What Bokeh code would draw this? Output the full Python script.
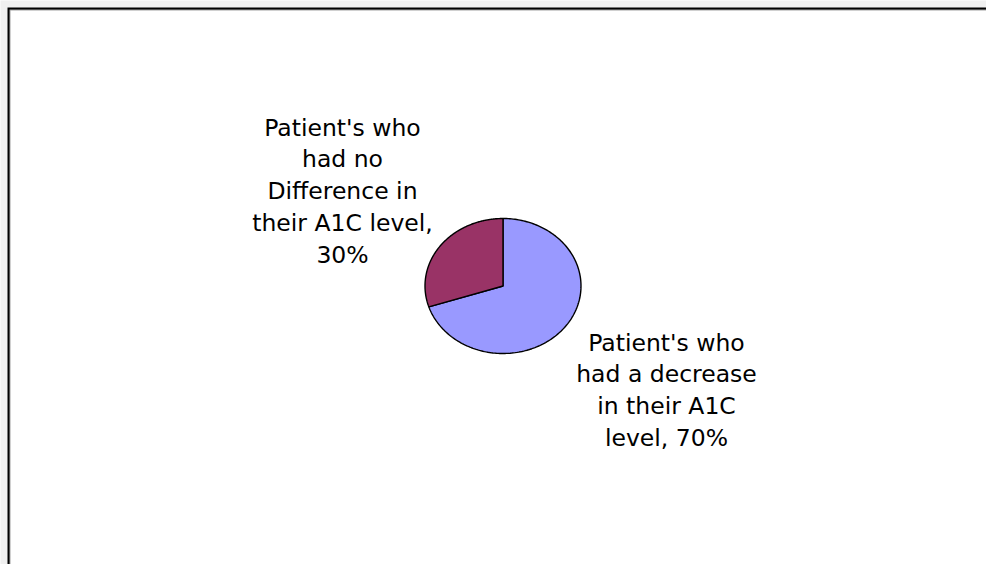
import numpy as np
from bokeh.plotting import figure
from bokeh.models import Range1d, ColumnDataSource
from bokeh.core.properties import value
from bokeh.embed import file_html
from bokeh.resources import INLINE

# Pie data: slices drawn clockwise from 12 o'clock in this order
categories = ["Patient's who\nhad a decrease\nin their A1C\nlevel",
              "Patient's who\nhad no\nDifference in\ntheir A1C level"]
percents = [70, 30]
colors = ["#9999FF", "#993366"]

W, H = 986, 564
p = figure(width=W, height=H, output_backend="svg", toolbar_location=None,
           x_range=Range1d(0, W), y_range=Range1d(H, 0), min_border=0)
p.axis.visible = False
p.grid.visible = False
p.outline_line_color = None
p.background_fill_color = "#f0f0f0"
p.border_fill_color = "#f0f0f0"

# Chart area frame (continues past the window's right and bottom edges)
p.quad(left=[7], right=[2000], top=[7], bottom=[2000], fill_color="black", line_color=None)
p.quad(left=[9], right=[2000], top=[9], bottom=[2000], fill_color="#a0a0a0", line_color=None)
p.quad(left=[10], right=[2000], top=[10], bottom=[2000], fill_color="white", line_color=None)

# Elliptical pie
cx, cy, rx, ry = 502.5, 285.5, 78, 67.5
fracs = np.array(percents, dtype=float) / sum(percents)
ends = np.cumsum(fracs) * 2 * np.pi
starts = ends - fracs * 2 * np.pi
xs, ys = [], []
for a0, a1 in zip(starts, ends):
    t = np.linspace(a0, a1, 200)
    xs.append(np.concatenate([[cx], cx + rx * np.sin(t), [cx]]))
    ys.append(np.concatenate([[cy], cy - ry * np.cos(t), [cy]]))
p.patches(xs=xs, ys=ys, fill_color=colors, line_color="black", line_width=1.4)

# Data labels: category name followed by its share, one text per line
label_pos = [(666, 342), (342, 127)]  # centre x and first baseline of each label
line_gap = 31.8
tx, ty, tt = [], [], []
for name, pct, (lx, ly) in zip(categories, percents, label_pos):
    lines = name.split("\n")
    if len(lines[-1]) > 10:
        # long last line: the share goes on a line of its own
        lines[-1] = lines[-1] + ","
        lines.append(f"{pct}%")
    else:
        lines[-1] = lines[-1] + f", {pct}%"
    for i, ln in enumerate(lines):
        tx.append(lx)
        ty.append(ly + i * line_gap)
        tt.append(ln)

src = ColumnDataSource(dict(x=tx, y=ty, t=tt))
p.text(x="x", y="y", text="t", source=src, text_font=value("DejaVu Sans"),
       text_font_size="23.5px", text_color="black", text_align="center",
       text_baseline="alphabetic")

open("out.html", "w").write(file_html(p, INLINE))
